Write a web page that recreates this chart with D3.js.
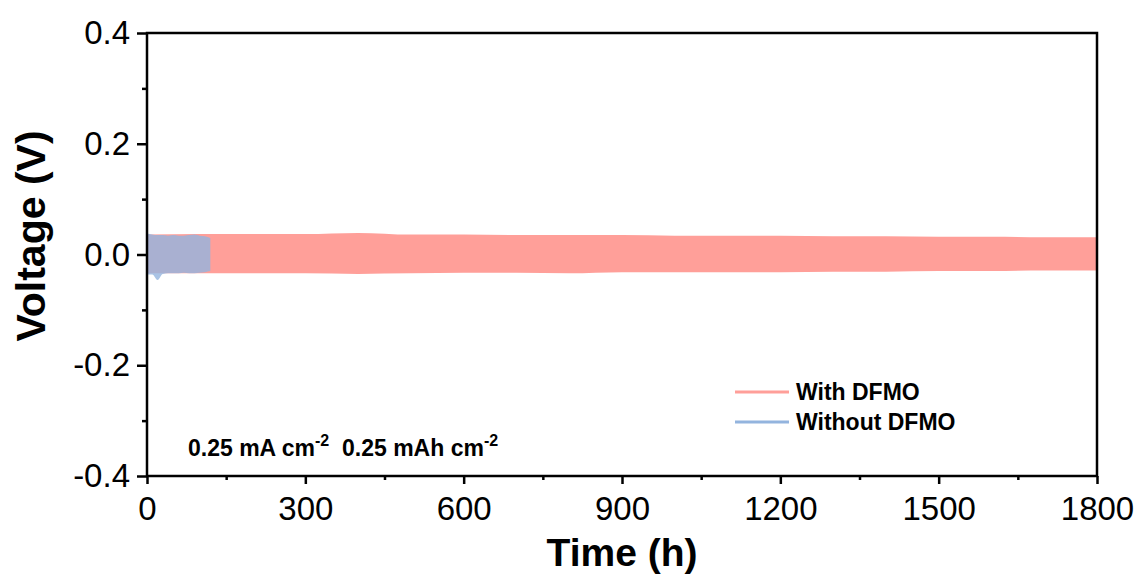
<!DOCTYPE html>
<html>
<head>
<meta charset="utf-8">
<script src="https://cdn.jsdelivr.net/npm/d3@7/dist/d3.min.js"></script>
<style>
  html, body { margin: 0; padding: 0; background: #fff; }
  svg { display: block; font-family: Arial, "Liberation Sans", sans-serif; }
</style>
</head>
<body>
<svg id="chart" width="1140" height="581"></svg>
<script>
// Voltage envelope of the cycling profile (h, V)
const withTime  = [0, 100, 200, 300, 400, 500, 600, 700, 800, 900, 1000, 1100, 1200, 1300, 1400, 1500, 1600, 1700, 1800];
const withUpper = [0.036, 0.037, 0.037, 0.037, 0.039, 0.036, 0.036, 0.035, 0.035, 0.035, 0.034, 0.034, 0.034, 0.033, 0.033, 0.032, 0.032, 0.031, 0.031];
const withLower = [-0.034, -0.034, -0.034, -0.034, -0.035, -0.034, -0.033, -0.033, -0.034, -0.032, -0.032, -0.032, -0.032, -0.031, -0.031, -0.030, -0.030, -0.029, -0.029];

const withoutTime  = [0, 10, 20, 30, 40, 50, 60, 70, 80, 90, 100, 110, 120];
const withoutUpper = [0.038, 0.036, 0.035, 0.035, 0.034, 0.035, 0.034, 0.034, 0.035, 0.036, 0.034, 0.033, 0.030];
const withoutLower = [-0.036, -0.036, -0.046, -0.035, -0.034, -0.034, -0.034, -0.033, -0.034, -0.034, -0.033, -0.032, -0.030];

const xTicks = [0, 300, 600, 900, 1200, 1500, 1800];
const xMinor = [150, 450, 750, 1050, 1350, 1650];
const yTicks = [-0.4, -0.2, 0.0, 0.2, 0.4];
const yMinor = [-0.3, -0.1, 0.1, 0.3];

const seriesNames = ["With DFMO", "Without DFMO"];
const seriesColors = ["#ff9f99", "#93b4de"];

const svg = d3.select("#chart");
const plotL = 147, plotR = 1097, plotT = 33, plotB = 476;

const x = d3.scaleLinear().domain([0, 1800]).range([plotL, plotR]);
const y = d3.scaleLinear().domain([-0.4, 0.4]).range([plotB, plotT]);

function band(t, up, lo) {
  return t.map((d, i) => ({ t: d, up: up[i], lo: lo[i] }));
}
const area = d3.area().x(d => x(d.t)).y0(d => y(d.lo)).y1(d => y(d.up)).curve(d3.curveMonotoneX);

svg.append("path")
  .datum(band(withTime, withUpper, withLower))
  .attr("d", area)
  .attr("fill", seriesColors[0]);

svg.append("path")
  .datum(band(withoutTime, withoutUpper, withoutLower))
  .attr("d", area)
  .attr("fill", seriesColors[1])
  .attr("fill-opacity", 0.8);

// Frame
svg.append("rect")
  .attr("x", plotL).attr("y", plotT)
  .attr("width", plotR - plotL).attr("height", plotB - plotT)
  .attr("fill", "none").attr("stroke", "#000").attr("stroke-width", 2.5);

// Axes
const fmtY = d => d3.format(".1f")(d).replace("\u2212", "-");
const xAxis = svg.append("g").attr("transform", `translate(0,${plotB})`)
  .call(d3.axisBottom(x).tickValues(xTicks).tickSize(8).tickPadding(13).tickFormat(d3.format("d")));
const xMin = svg.append("g").attr("transform", `translate(0,${plotB})`)
  .call(d3.axisBottom(x).tickValues(xMinor).tickSize(4).tickFormat(""));
const yAxis = svg.append("g").attr("transform", `translate(${plotL},0)`)
  .call(d3.axisLeft(y).tickValues(yTicks).tickSize(10).tickPadding(7).tickFormat(fmtY));
const yMin = svg.append("g").attr("transform", `translate(${plotL},0)`)
  .call(d3.axisLeft(y).tickValues(yMinor).tickSize(5).tickFormat(""));

[xAxis, xMin, yAxis, yMin].forEach(g => {
  g.select(".domain").remove();
  g.selectAll(".tick line").attr("stroke", "#000").attr("stroke-width", 2.5);
});
[xAxis, yAxis].forEach(g => {
  g.selectAll(".tick text")
    .attr("fill", "#000")
    .style("font-size", "33px")
    .style("font-family", "Arial, 'Liberation Sans', sans-serif");
});

// Axis titles
svg.append("text")
  .attr("x", (plotL + plotR) / 2).attr("y", 566)
  .attr("text-anchor", "middle")
  .style("font-size", "39px").style("font-weight", "bold")
  .text("Time (h)");

svg.append("text")
  .attr("transform", `translate(45,236) rotate(-90)`)
  .attr("text-anchor", "middle")
  .style("font-size", "41px").style("font-weight", "bold")
  .text("Voltage (V)");

// Legend
const legend = svg.append("g").attr("transform", "translate(735,392)");
seriesNames.forEach((name, i) => {
  const g = legend.append("g").attr("transform", `translate(0,${i * 30})`);
  g.append("line").attr("x1", 0).attr("x2", 54).attr("y1", 0).attr("y2", 0)
    .attr("stroke", seriesColors[i]).attr("stroke-width", 3);
  g.append("text").attr("x", 61).attr("y", 8)
    .style("font-size", "23px").style("font-weight", "bold")
    .text(name);
});

// Test condition note
const note = svg.append("text").attr("x", 188).attr("y", 456)
  .style("font-size", "23px").style("font-weight", "bold");
note.append("tspan").text("0.25 mA cm");
note.append("tspan").attr("dy", -10).style("font-size", "16px").text("-2");
note.append("tspan").attr("dy", 10).text("\u00a0 0.25 mAh cm");
note.append("tspan").attr("dy", -10).style("font-size", "16px").text("-2");
</script>
</body>
</html>
